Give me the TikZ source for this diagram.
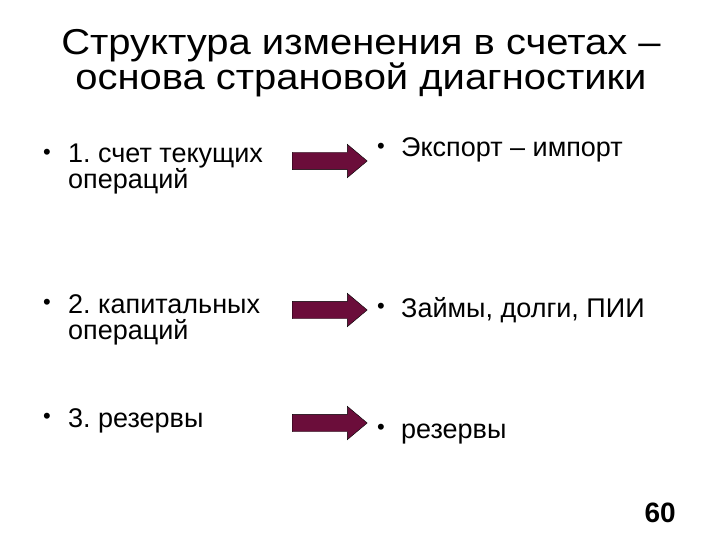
\documentclass[tikz,border=0pt]{standalone}
\usepackage{fontspec}
\setmainfont{Liberation Sans}
\newfontfamily\titlefont[FakeStretch=1.11]{Liberation Sans}
\usepackage{xcolor}
\definecolor{SLmaroon}{HTML}{6B0D3A}
\usetikzlibrary{shapes.arrows}
\newcommand\bul[1]{\makebox[#1][l]{\hspace*{3pt}\fontsize{22}{22}\selectfont\raisebox{3.5pt}{•}}}
\frenchspacing

\begin{document}
\begin{tikzpicture}[x=1pt,y=-1pt,
  title/.style={font=\titlefont\fontsize{36}{32}\selectfont,align=center,inner sep=0pt,anchor=base},
  item/.style={font=\fontsize{27}{26}\selectfont,align=left,inner sep=0pt,anchor=base west},
  blockarrow/.style={single arrow,draw=black,fill=SLmaroon,minimum height=75pt,
    minimum width=33pt,single arrow head extend=8pt,single arrow tip angle=80,
    inner xsep=0pt,inner ysep=8.5pt,anchor=tail}]
\useasboundingbox (0,0) rectangle (720,540);
\node[title] (head) at (361,90) {Структура изменения в счетах –\\основа страновой диагностики};
% left column
\node[item] (current) at (40,189) {\bul{28pt}1. счет текущих\\\hspace*{28pt}операций};
\node[item] (capital) at (40,339) {\bul{28pt}2. капитальных\\\hspace*{28pt}операций};
\node[item] (reserves) at (40,427) {\bul{28pt}3. резервы};
% arrows
\node[blockarrow] (arrA) at (292,161) {};
\node[blockarrow] (arrB) at (292,310) {};
\node[blockarrow] (arrC) at (292,423) {};
% right column
\node[item] (trade) at (374,157) {\bul{27pt}Экспорт – импорт};
\node[item] (loans) at (374,317) {\bul{27pt}Займы, долги, ПИИ};
\node[item] (stock) at (374,438) {\bul{27pt}резервы};
\node[font=\bfseries\fontsize{28}{28}\selectfont,inner sep=0pt,anchor=base east] (page) at (676,522) {60};
\end{tikzpicture}
\end{document}
